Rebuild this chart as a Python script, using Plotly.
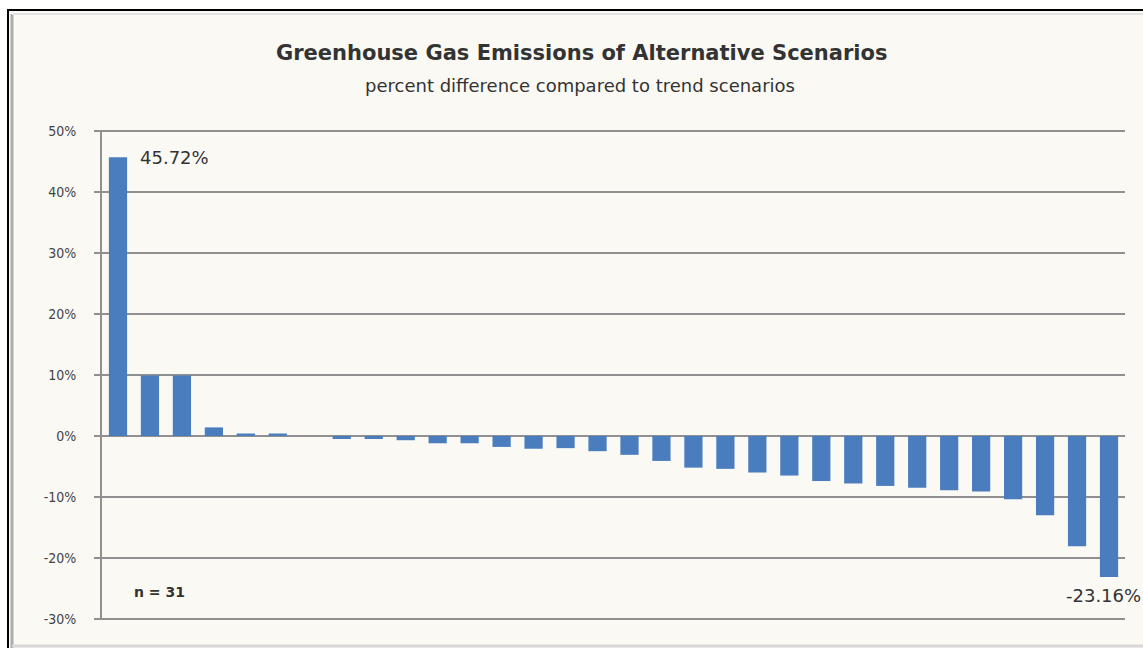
import plotly.graph_objects as go

# Data
scenarios = list(range(1, 33))
pct_diff = [45.72, 9.9, 9.9, 1.4, 0.4, 0.4, 0.0, -0.5, -0.5, -0.7, -1.2, -1.2,
            -1.8, -2.1, -2.0, -2.5, -3.1, -4.1, -5.2, -5.4, -6.0, -6.5, -7.4,
            -7.8, -8.2, -8.5, -8.9, -9.1, -10.4, -13.0, -18.1, -23.16]
y_ticks = [-30, -20, -10, 0, 10, 20, 30, 40, 50]
y_ticktext = [f"{v}%" for v in y_ticks]

W, H = 1143, 648
L, R, T, B = 102, 18, 130, 28
pw, ph = W - L - R, H - T - B

def px(x):
    return (x - L) / pw

def py(y):
    return (H - B - y) / ph

fig = go.Figure()
fig.add_trace(go.Bar(
    x=scenarios, y=pct_diff,
    marker=dict(color="#4A7DBE", line=dict(width=0)),
    hoverinfo="x+y",
))

fig.update_layout(
    width=W, height=H,
    margin=dict(l=L, r=R, t=T, b=B),
    paper_bgcolor="white",
    plot_bgcolor="rgba(0,0,0,0)",
    bargap=0.43,
    showlegend=False,
    font=dict(family="'DejaVu Sans', sans-serif", color="#222"),
    xaxis=dict(
        range=[0.5, len(scenarios) + 0.5],
        showticklabels=False, showgrid=False, zeroline=False,
        showline=False, ticks="",
    ),
    yaxis=dict(
        range=[-30.2, 50.2],
        tickvals=y_ticks, ticktext=y_ticktext,
        showgrid=True, gridcolor="#909090", gridwidth=2,
        zeroline=True, zerolinecolor="#909090", zerolinewidth=2,
        showline=True, linecolor="#909090", linewidth=2,
        ticks="outside", ticklen=6, tickcolor="#909090", tickwidth=2,
        tickfont=dict(family="'DejaVu Sans Condensed', 'DejaVu Sans', sans-serif",
                      size=14, color="#444"),
        ticklabelstandoff=15,
    ),
)

# Chart frame / background
fig.add_shape(type="rect", xref="paper", yref="paper",
              x0=px(8), x1=px(1160), y0=py(660), y1=py(10),
              fillcolor="#FBF9F4", line=dict(color="black", width=2), layer="below")
fig.add_shape(type="line", xref="paper", yref="paper",
              x0=px(12), x1=px(12), y0=py(648), y1=py(14),
              line=dict(color="#ABABAB", width=3), layer="below")
fig.add_shape(type="line", xref="paper", yref="paper",
              x0=px(12), x1=px(1143), y0=py(14), y1=py(14),
              line=dict(color="#E4E4E4", width=2), layer="below")
fig.add_shape(type="line", xref="paper", yref="paper",
              x0=px(12), x1=px(1143), y0=py(646), y1=py(646),
              line=dict(color="#D8D8D8", width=3), layer="below")

# Titles
fig.add_annotation(xref="paper", yref="paper", x=px(581), y=py(53),
                   text="<b>Greenhouse Gas Emissions of Alternative Scenarios</b>",
                   showarrow=False, font=dict(size=21, color="#333"),
                   xanchor="center", yanchor="middle")
fig.add_annotation(xref="paper", yref="paper", x=px(580), y=py(85),
                   text="percent difference compared to trend scenarios",
                   showarrow=False, font=dict(size=18, color="#333"),
                   xanchor="center", yanchor="middle")

# Data labels
fig.add_annotation(x=1.63, y=pct_diff[0], text=f"{pct_diff[0]:.2f}%",
                   showarrow=False, xanchor="left", yanchor="middle",
                   font=dict(size=18, color="#333"))
fig.add_annotation(x=len(scenarios) - 1.41, y=min(pct_diff) - 3.1,
                   text=f"{min(pct_diff):.2f}%",
                   showarrow=False, xanchor="left", yanchor="middle",
                   font=dict(size=18, color="#333"))
fig.add_annotation(x=1.44, y=-25.6, text=f"<b>n = {len(scenarios) - 1}</b>",
                   showarrow=False, xanchor="left", yanchor="middle",
                   font=dict(size=14, color="#333"))

fig.write_html("out.html", config={"displayModeBar": False},
               post_script="document.body.style.margin='0';document.body.style.overflow='hidden';")
